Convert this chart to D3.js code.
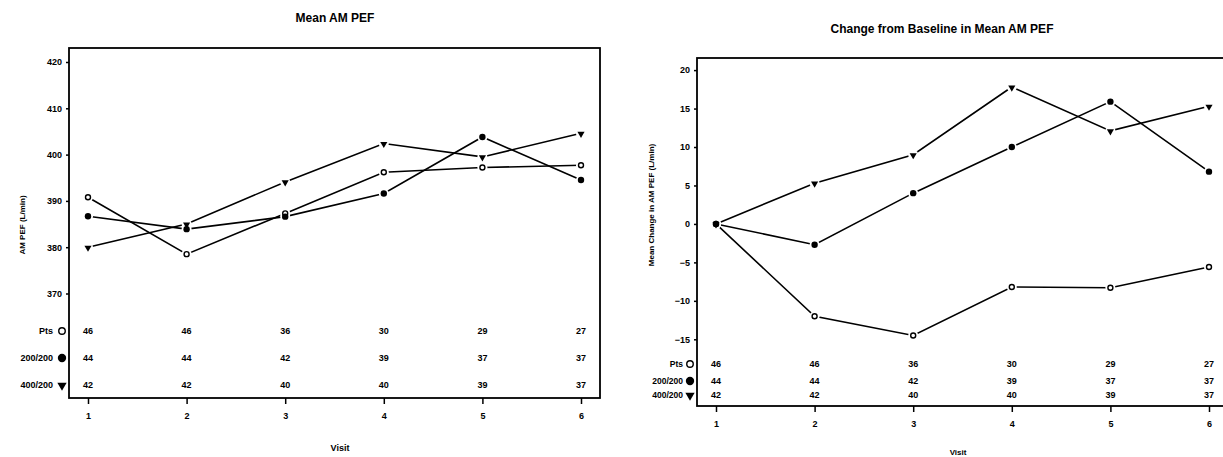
<!DOCTYPE html>
<html>
<head>
    <meta charset="utf-8">
    <style>
        body { margin: 0; background: #fff; }
        text { font-family: "Liberation Sans", Arial, sans-serif; font-weight: bold; fill: #000; }
        .tick line { stroke: #000; stroke-width: 1.5; }
        .tick text { font-size: 9px; }
        .title { font-size: 12px; }
        .count { font-size: 9px; text-anchor: middle; }
        .series { fill: none; stroke: #000; stroke-width: 1.6; }
    </style>
    <script src="https://d3js.org/d3.v7.min.js"></script>
</head>
<body>
    <svg width="1223" height="457"></svg>
    <script>
        // visits and groups
        var visits = [1, 2, 3, 4, 5, 6];
        var groups = ["Pts", "200/200", "400/200"];
        var markers = ["open", "filled", "triangle"];

        // Mean AM PEF (L/min)
        var meanPts = [390.8, 378.5, 387.3, 396.2, 397.2, 397.7];
        var mean200 = [386.7, 383.9, 386.6, 391.6, 403.8, 394.5];
        var mean400 = [380.0, 385.0, 394.1, 402.4, 399.5, 404.6];

        // change from baseline
        var chgPts = [0, -12.0, -14.5, -8.2, -8.3, -5.6];
        var chg200 = [0, -2.7, 4.0, 10.0, 15.9, 6.8];
        var chg400 = [0, 5.3, 9.0, 17.8, 12.1, 15.3];

        // patients per visit
        var nPts = [46, 46, 36, 30, 29, 27];
        var n200 = [44, 44, 42, 39, 37, 37];
        var n400 = [42, 42, 40, 40, 39, 37];

        var meanTicks = [370, 380, 390, 400, 410, 420];
        var chgTicks = [-15, -10, -5, 0, 5, 10, 15, 20];

        var svg = d3.select("svg");

        function drawMarker(g, kind, x, y, big) {
            var s = big ? 1.3 : 1;
            if (kind == "open") {
                g.append("circle").attr("cx", x).attr("cy", y).attr("r", 2.5 * s)
                    .attr("fill", "#fff").attr("stroke", "#000").attr("stroke-width", 1.4);
            } else if (kind == "filled") {
                g.append("circle").attr("cx", x).attr("cy", y).attr("r", 3.2 * s).attr("fill", "#000");
            } else {
                g.append("path").attr("d", d3.symbol().type(d3.symbolTriangle).size(22 * s * s)())
                    .attr("transform", "translate(" + x + "," + (y + 0.5) + ") rotate(180)")
                    .attr("fill", "#000");
            }
        }

        function panel(p) {
            var g = svg.append("g");
            var x = d3.scaleLinear().domain([1, 6]).range(p.xr);
            var y = d3.scaleLinear().domain(p.yd).range(p.yr);

            // frame
            g.append("rect").attr("x", p.left).attr("y", p.top)
                .attr("width", p.right - p.left).attr("height", p.bottom - p.top)
                .attr("fill", "none").attr("stroke", "#000").attr("stroke-width", 1.8);

            var ya = g.append("g").attr("transform", "translate(" + p.left + ",0)")
                .call(d3.axisLeft(y).tickValues(p.ticks).tickSize(3).tickPadding(4).tickFormat(d3.format("d")));
            ya.select(".domain").remove();

            var xa = g.append("g").attr("transform", "translate(0," + p.bottom + ")")
                .call(d3.axisBottom(x).tickValues(visits).tickSize(6).tickPadding(9).tickFormat(d3.format("d")));
            xa.select(".domain").remove();

            g.append("text").attr("class", "title").attr("x", p.titleX).attr("y", p.titleY)
                .attr("text-anchor", "middle").text(p.title);
            g.append("text").attr("x", p.visitX).attr("y", p.visitY).attr("text-anchor", "middle")
                .style("font-size", p.visitFs + "px").text("Visit");
            g.append("text").attr("transform", "translate(" + p.ylabX + "," + p.ylabY + ") rotate(-90)")
                .attr("text-anchor", "middle").style("font-size", "8px").text(p.ylab);

            var line = d3.line().x(function(d, i) { return x(visits[i]); }).y(function(d) { return y(d); });
            p.series.forEach(function(s) {
                g.append("path").attr("class", "series").attr("d", line(s));
            });
            // white halo so the lines stop short of the markers
            p.series.forEach(function(s) {
                s.forEach(function(v, i) {
                    g.append("circle").attr("cx", x(visits[i])).attr("cy", y(v)).attr("r", 5).attr("fill", "#fff");
                });
            });
            p.series.forEach(function(s, k) {
                s.forEach(function(v, i) { drawMarker(g, markers[k], x(visits[i]), y(v)); });
            });

            // patient counts
            p.counts.forEach(function(c, k) {
                var ry = p.rows[k];
                g.append("text").attr("x", p.legX).attr("y", ry).attr("dy", "0.35em")
                    .attr("text-anchor", "end").style("font-size", p.legFs + "px").text(groups[k]);
                drawMarker(g, markers[k], p.symX, ry, true);
                g.selectAll(null).data(c).enter().append("text").attr("class", "count")
                    .attr("x", function(d, i) { return x(visits[i]); })
                    .attr("y", ry).attr("dy", "0.35em").text(function(d) { return d; });
            });
        }

        panel({
            xr: [88, 581], yd: [370, 420], yr: [293.5, 62],
            left: 69, right: 600, top: 48, bottom: 398,
            ticks: meanTicks,
            title: "Mean AM PEF", titleX: 335, titleY: 22,
            visitX: 340, visitY: 451, visitFs: 9,
            ylab: "AM PEF (L/min)", ylabX: 25, ylabY: 225,
            series: [meanPts, mean200, mean400],
            counts: [nPts, n200, n400], rows: [331, 358, 385],
            legX: 53, symX: 62, legFs: 9
        });

        panel({
            xr: [716, 1209], yd: [-15, 20], yr: [339.3, 70.1],
            left: 697, right: 1240, top: 58, bottom: 406,
            ticks: chgTicks,
            title: "Change from Baseline in Mean AM PEF", titleX: 942, titleY: 33,
            visitX: 958, visitY: 455, visitFs: 8,
            ylab: "Mean Change in AM PEF (L/min)", ylabX: 654, ylabY: 205,
            series: [chgPts, chg200, chg400],
            counts: [nPts, n200, n400], rows: [364, 381, 395],
            legX: 683, symX: 690, legFs: 8.5
        });
    </script>
</body>
</html>
